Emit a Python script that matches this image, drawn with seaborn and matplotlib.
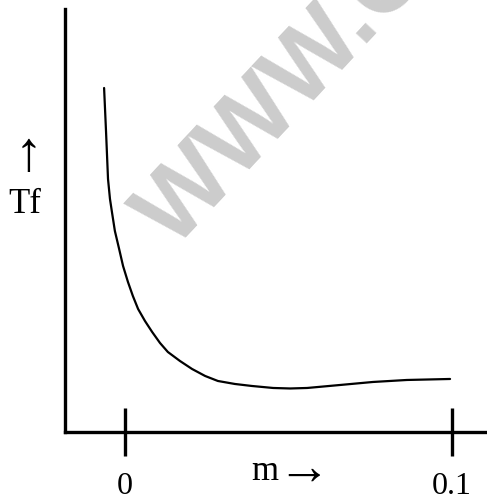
import matplotlib
matplotlib.use("Agg")
import matplotlib.pyplot as plt
import matplotlib.transforms as mtransforms
import seaborn as sns
import pandas as pd

# ── DATA ─────────────────────────────────────────────────
m_values  = [-0.0064, -0.0058, -0.0052, -0.0046, -0.0040, -0.0031, -0.0018,
             -0.0006, 0.0009, 0.0024, 0.0040, 0.0061, 0.0083, 0.0107,
             0.0131, 0.0168, 0.0205, 0.0245, 0.0284, 0.0336, 0.0388,
             0.0453, 0.0505, 0.0557, 0.0658, 0.0758, 0.0862, 0.0994]
tf_values = [34.4, 30.0, 25.3, 23.3, 22.0, 20.1, 18.3,
             16.6, 15.0, 13.6, 12.3, 11.1, 10.0, 8.9,
             8.0, 7.1, 6.3, 5.6, 5.1, 4.8, 4.6,
             4.4, 4.35, 4.4, 4.7, 5.0, 5.2, 5.3]
tick_pos    = [0, 0.1]
tick_labels = ["0", "0.1"]

df = pd.DataFrame({"m": m_values, "Tf": tf_values})

# ── STYLE ────────────────────────────────────────────────
sns.set_theme(style="white")
plt.rcParams["font.family"] = ["Liberation Serif", "DejaVu Serif"]

fig = plt.figure(figsize=(4.87, 5.02), dpi=100)
ax = fig.add_axes([0.1335, 0.1375, 0.8665, 0.8426])
ax.patch.set_alpha(0)

# faint watermark behind everything (runs off the top edge, as in the source)
fig.text(174 / 487, 1 - 250 / 502, "WWW.C", rotation=47, rotation_mode="anchor",
         ha="left", va="baseline", fontsize=72, color="#cccccc",
         family="Liberation Sans", fontweight="bold", zorder=0)

sns.lineplot(data=df, x="m", y="Tf", color="black", linewidth=1.6,
             sort=False, ax=ax)

ax.set_xlim(-0.01835, 0.1107)
ax.set_ylim(0, 42.3)

# only left and bottom axis lines
for side in ["top", "right"]:
    ax.spines[side].set_visible(False)
for side in ["left", "bottom"]:
    ax.spines[side].set_linewidth(2.4)
    ax.spines[side].set_color("black")

ax.set_xticks(tick_pos)
ax.set_xticklabels(tick_labels)
ax.tick_params(axis="x", bottom=True, direction="inout", length=34, width=2.4,
               color="black", pad=11, labelsize=23, labelcolor="black")
ax.set_yticks([])
ax.set_xlabel("")
ax.set_ylabel("")

# axis captions as free text
trans = mtransforms.blended_transform_factory(ax.transData, fig.transFigure)
ax.text(0.0468, 1 - 480 / 502, "m", transform=trans, ha="right",
        va="baseline", fontsize=25, color="black")
ax.text(0.0465, 1 - 471 / 502, "\u2192", transform=trans, ha="left",
        va="center", fontsize=38, color="black")
fig.text(28 / 487, 1 - 156 / 502, "\u2191", ha="center", va="center",
         fontsize=40, color="black")
fig.text(25 / 487, 1 - 213 / 502, "Tf", ha="center", va="baseline",
         fontsize=25, color="black")

plt.savefig("out.png", dpi=100)
plt.close()
